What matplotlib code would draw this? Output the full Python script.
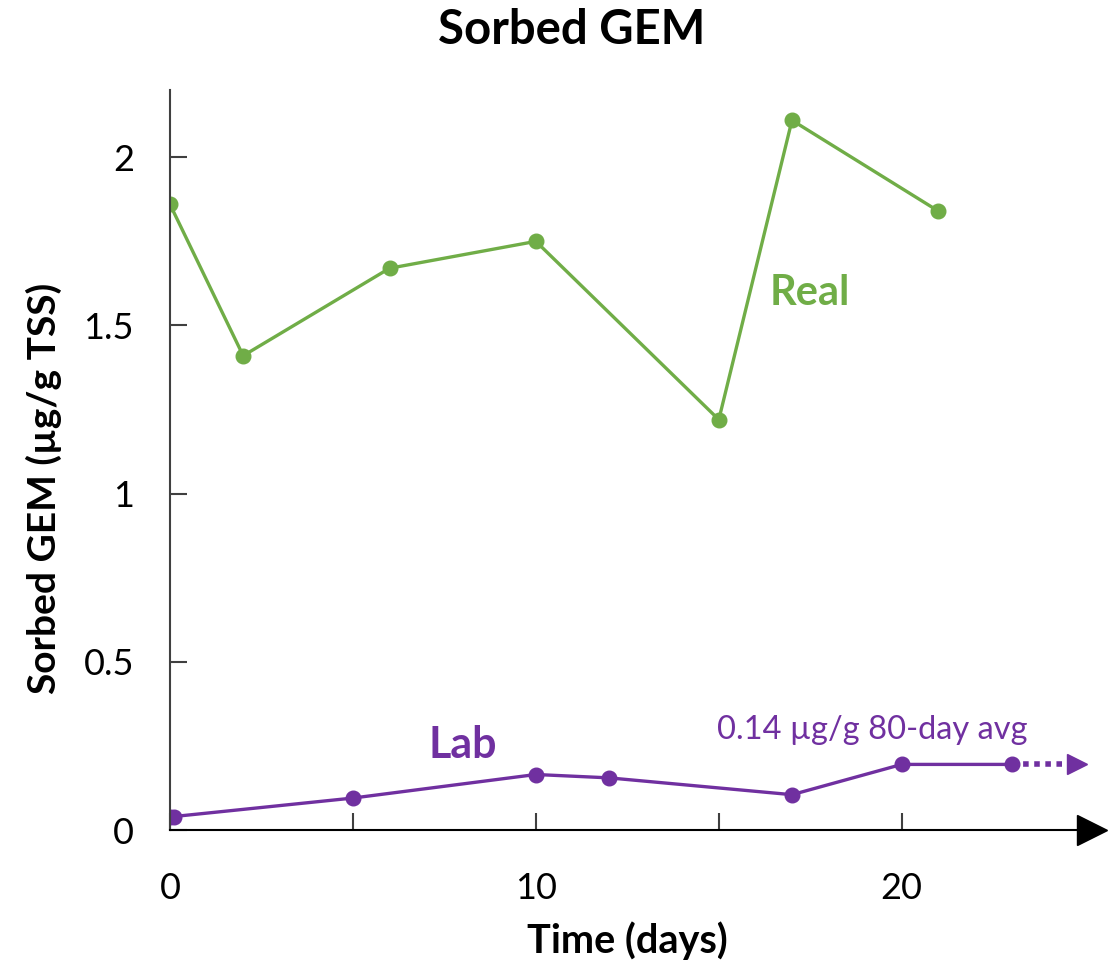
import matplotlib.pyplot as plt

# data
real_days = [0, 2, 6, 10, 15, 17, 21]
real_gem = [1.86, 1.41, 1.67, 1.75, 1.22, 2.11, 1.84]

lab_days = [0, 0.1, 5, 10, 12, 17, 20, 23]
lab_gem = [0.04, 0.04, 0.095, 0.165, 0.155, 0.105, 0.195, 0.195]
lab_avg_label = '0.14 µg/g 80-day avg'

x_ticks = [0, 5, 10, 15, 20]
x_labels = ['0', '', '10', '', '20']
y_ticks = [0, 0.5, 1, 1.5, 2]
y_labels = ['0', '0.5', '1', '1.5', '2']

verde = '#70AD47'
roxo = '#7030A0'

plt.rcParams['font.family'] = ['Lato', 'DejaVu Sans']

fig = plt.figure(figsize=(11.12, 9.66), dpi=100)
ax = fig.add_axes([170/1112, 136/966, 922/1112, 740/966])

ax.plot(real_days, real_gem, color=verde, lw=2.4, marker='o', ms=10.5)
ax.plot(lab_days, lab_gem, color=roxo, lw=2.4, marker='o', ms=10.5)

# seta pontilhada indicando continuação da média
ax.plot([lab_days[-1], 24.6], [lab_gem[-1], lab_gem[-1]], color=roxo, lw=4,
        linestyle=(0, (1, 1)), clip_on=False)
ax.plot(24.8, lab_gem[-1], marker='>', color=roxo, ms=14, clip_on=False)

ax.text(17.5, 1.596, 'Real', color=verde, fontsize=30, fontweight='bold', ha='center', va='center')
ax.text(8.0, 0.253, 'Lab', color=roxo, fontsize=31, fontweight='bold', ha='center', va='center')
ax.text(19.2, 0.297, lab_avg_label, color=roxo, fontsize=23.5, ha='center', va='center')

ax.set_xlim(0, 25.2)
ax.set_ylim(0, 2.2)
ax.set_xticks(x_ticks)
ax.set_xticklabels(x_labels)
ax.set_yticks(y_ticks)
ax.set_yticklabels(y_labels)
ax.tick_params(axis='both', direction='in', length=12, width=1.5, labelsize=26, colors='#404040', labelcolor='black')
ax.tick_params(axis='x', pad=30)
ax.tick_params(axis='y', pad=26)

for s in ['top', 'right']:
    ax.spines[s].set_visible(False)
ax.spines['left'].set_color('#404040')
ax.spines['left'].set_linewidth(1.5)
ax.spines['bottom'].set_color('black')
ax.spines['bottom'].set_linewidth(1.5)

# ponta de seta no eixo x
ax.plot(1, 0, marker='>', color='black', ms=22, transform=ax.transAxes, clip_on=False)

ax.set_xlabel('Time (days)', fontsize=28.5, fontweight='bold')
ax.xaxis.set_label_coords((627 - 170)/922, -91/740)
ax.set_ylabel('Sorbed GEM (µg/g TSS)', fontsize=28, fontweight='bold')
ax.yaxis.set_label_coords(-108/922, 342/740)
fig.text(572/1112, 1 - 30/966, 'Sorbed GEM', fontsize=34, fontweight='bold', ha='center', va='center')

fig.savefig('out.png', dpi=100)
